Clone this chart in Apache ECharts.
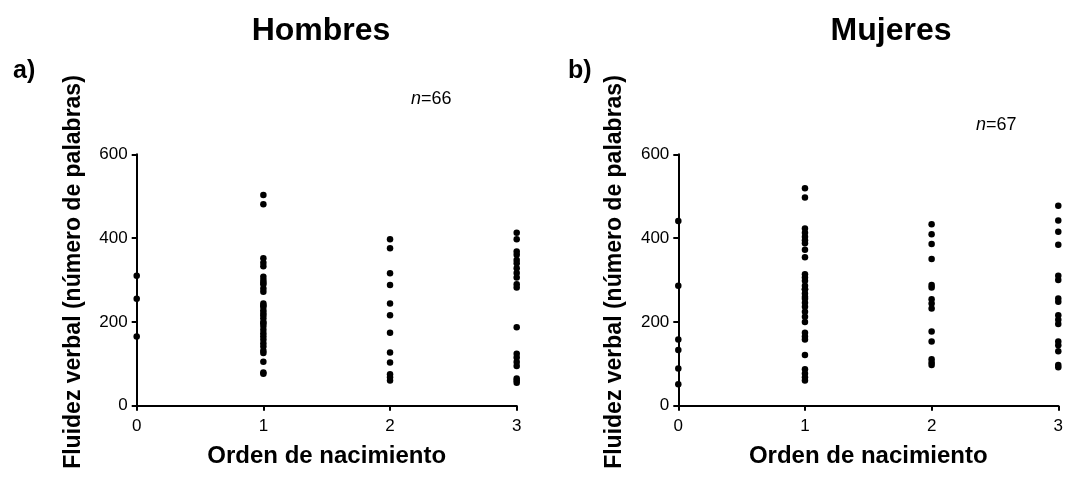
<!DOCTYPE html>
<html><head><meta charset="utf-8">
<script src="https://cdn.jsdelivr.net/npm/echarts@6/dist/echarts.min.js"></script>
<style>html,body{margin:0;padding:0;background:#fff}#c{width:1066px;height:489px}</style>
</head><body><div id="c"></div>
<script>
// Hombres (a), n=66 : values by birth order
const menOrder0 = [310, 255, 165];
const menOrder1 = [503, 481, 352, 341, 333, 308, 300, 294, 290, 280, 272, 244, 239, 236, 228, 221, 216, 209, 200, 197, 190, 181, 173, 166, 158, 149, 141, 131, 126, 105, 79, 76];
const menOrder2 = [397, 376, 316, 288, 244, 216, 174, 127, 103, 75, 68, 60];
const menOrder3 = [413, 397, 368, 360, 348, 340, 328, 317, 306, 290, 282, 187, 124, 115, 104, 95, 65, 60, 55];
// Mujeres (b), n=67
const womenOrder0 = [441, 286, 158, 133, 89, 51];
const womenOrder1 = [519, 497, 423, 413, 403, 395, 388, 372, 354, 314, 306, 298, 286, 278, 268, 260, 255, 246, 236, 224, 212, 200, 174, 165, 158, 121, 87, 77, 68, 60, 278];
const womenOrder2 = [433, 409, 386, 350, 288, 282, 254, 244, 232, 177, 153, 111, 103, 97];
const womenOrder3 = [477, 442, 415, 384, 310, 300, 256, 248, 216, 205, 195, 153, 144, 130, 97, 92];

const xTicks = [0, 1, 2, 3];
const yTicks = [0, 200, 400, 600];
const titles = ['Hombres', 'Mujeres'];
const panels = ['a)', 'b)'];
const nLabels = ['66', '67'];
const xName = 'Orden de nacimiento';
const yName = 'Fluidez verbal (número de palabras)';

function pts(order, vals){ return vals.map(v => [order, v]); }
const menData = [].concat(pts(0, menOrder0), pts(1, menOrder1), pts(2, menOrder2), pts(3, menOrder3));
const womenData = [].concat(pts(0, womenOrder0), pts(1, womenOrder1), pts(2, womenOrder2), pts(3, womenOrder3));

const F = '"Liberation Sans", Arial, sans-serif';
const lineS = {color:'#000', width:2};
function xAxis(i){
  return {gridIndex:i, type:'value', min:xTicks[0], max:xTicks[xTicks.length-1], interval:1,
    splitLine:{show:false}, axisLine:{lineStyle:lineS}, axisTick:{length:5, lineStyle:lineS},
    axisLabel:{color:'#000', fontFamily:F, fontSize:17, margin:12},
    name:xName, nameLocation:'middle', nameGap:39,
    nameTextStyle:{color:'#000', fontFamily:F, fontSize:24, fontWeight:'bold'}};
}
function yAxis(i){
  return {gridIndex:i, type:'value', min:yTicks[0], max:yTicks[yTicks.length-1], interval:200,
    splitLine:{show:false}, axisLine:{show:true, lineStyle:lineS}, axisTick:{show:true, length:5, lineStyle:lineS},
    axisLabel:{color:'#000', fontFamily:F, fontSize:17, margin:9},
    name:yName, nameLocation:'middle', nameGap:52,
    nameTextStyle:{color:'#000', fontFamily:F, fontSize:23, fontWeight:'bold', padding:[0,0,0,16]}};
}
const nStyle = {fontFamily:F, fontSize:18, fontWeight:'normal', color:'#000',
  rich:{i:{fontStyle:'italic', fontWeight:'normal', fontFamily:F, fontSize:18, color:'#000'},
        r:{fontWeight:'normal', fontFamily:F, fontSize:18, color:'#000'}}};
const chart = echarts.init(document.getElementById('c'), null, {renderer:'canvas'});
chart.setOption({
  animation:false,
  backgroundColor:'#fff',
  title:[
    {text:titles[0], left:316, top:10, textAlign:'center', textStyle:{fontFamily:F, fontSize:32, fontWeight:'bold', color:'#000'}},
    {text:titles[1], left:886, top:10, textAlign:'center', textStyle:{fontFamily:F, fontSize:32, fontWeight:'bold', color:'#000'}},
    {text:panels[0], left:8, top:54, textStyle:{fontFamily:F, fontSize:25, fontWeight:'bold', color:'#000'}},
    {text:panels[1], left:563, top:54, textStyle:{fontFamily:F, fontSize:25, fontWeight:'bold', color:'#000'}},
    {text:'{i|n}{r|=' + nLabels[0] + '}', left:406, top:85, textStyle:nStyle},
    {text:'{i|n}{r|=' + nLabels[1] + '}', left:971, top:111, textStyle:nStyle}
  ],
  grid:[
    {left:136.7, top:154.3, width:380, height:251.4},
    {left:678.3, top:154.3, width:380, height:251.4}
  ],
  xAxis:[xAxis(0), xAxis(1)],
  yAxis:[yAxis(0), yAxis(1)],
  series:[
    {type:'scatter', xAxisIndex:0, yAxisIndex:0, data:menData, symbolSize:6.5, itemStyle:{color:'#000', opacity:1}, clip:false},
    {type:'scatter', xAxisIndex:1, yAxisIndex:1, data:womenData, symbolSize:6.5, itemStyle:{color:'#000', opacity:1}, clip:false}
  ]
});
</script></body></html>
